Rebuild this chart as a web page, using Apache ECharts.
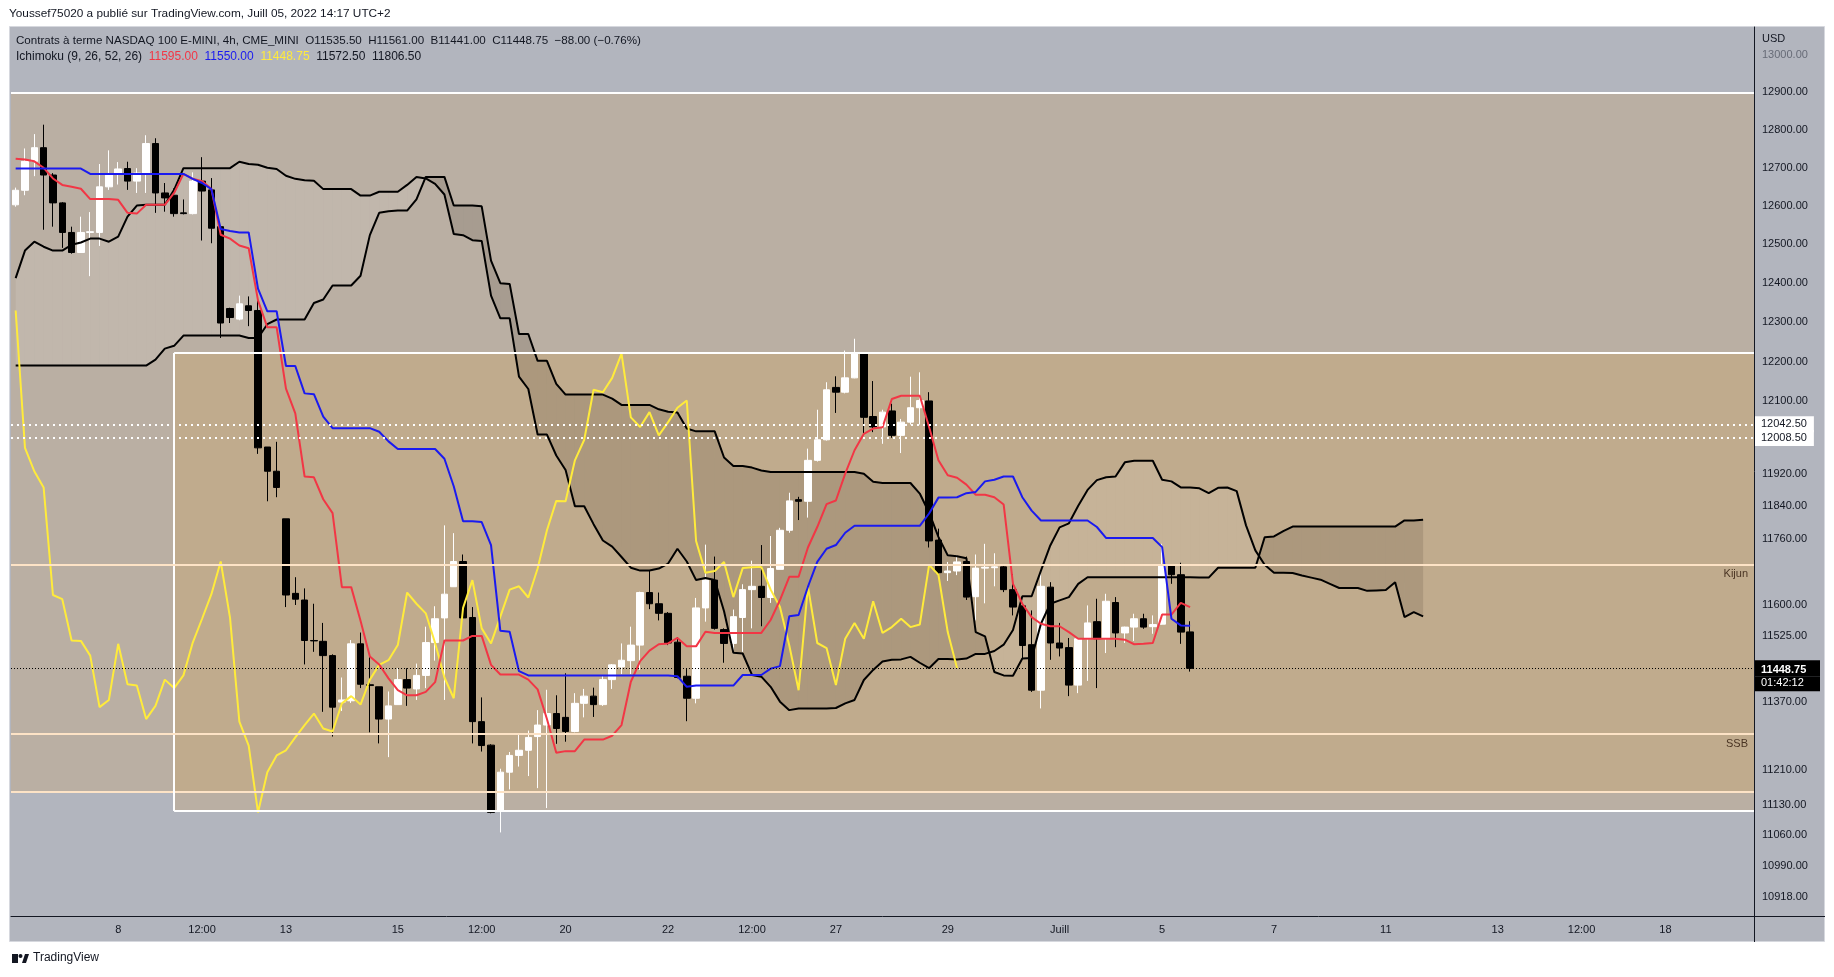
<!DOCTYPE html>
<html>
<head>
<meta charset="utf-8">
<script src="https://cdn.jsdelivr.net/npm/echarts@6/dist/echarts.min.js"></script>
<style>
  html, body { margin: 0; padding: 0; background: #ffffff; }
  #chart { width: 1834px; height: 977px; }
</style>
</head>
<body>
<div id="chart"></div>
<script>
const FONT = '"Liberation Sans", Arial, sans-serif';
const INK = '#131722';

// NQ1! 4h bars, index 0 = Jun 6 04:00 ... index 126 = Jul 5 12:00 (UTC+2)
const opens = [
  12603, 12641, 12717, 12753, 12681, 12608, 12531, 12479, 12531, 12531,
  12650, 12684, 12698, 12665, 12686, 12764, 12634, 12628, 12582, 12580,
  12665, 12642, 12546, 12335, 12308, 12342, 12330, 11986, 11926, 11809,
  11628, 11612, 11515, 11513, 11479, 11369, 11372, 11507, 11410, 11405,
  11329, 11363, 11422, 11400, 11432, 11510, 11569, 11644, 11705, 11570,
  11323, 11268, 11115, 11205, 11244, 11256, 11288, 11315, 11342, 11333,
  11300, 11366, 11383, 11363, 11422, 11452, 11467, 11504, 11630, 11603,
  11580, 11511, 11430, 11378, 11593, 11660, 11541, 11508, 11570, 11637,
  11645, 11618, 11686, 11781, 11856, 11852, 11953, 12004, 12135, 12123,
  12159, 12220, 12062, 12036, 12076, 12015, 12048, 12084, 12101, 11757,
  11678, 11682, 11705, 11620, 11689, 11690, 11692, 11637, 11598, 11505,
  11397, 11643, 11509, 11498, 11409, 11519, 11560, 11519, 11606, 11533,
  11547, 11567, 11548, 11554, 11695, 11673, 11535.5
];
const highs = [
  12648, 12751, 12789, 12814, 12686, 12610, 12546, 12572, 12584, 12710,
  12746, 12715, 12716, 12699, 12786, 12778, 12660, 12646, 12617, 12688,
  12728, 12673, 12548, 12337, 12368, 12366, 12356, 11986, 11999, 11809,
  11667, 11640, 11603, 11557, 11482, 11427, 11516, 11534, 11475, 11405,
  11394, 11449, 11449, 11460, 11548, 11597, 11793, 11774, 11722, 11595,
  11380, 11270, 11213, 11252, 11292, 11302, 11350, 11398, 11385, 11437,
  11390, 11400, 11403, 11432, 11459, 11508, 11548, 11632, 11683, 11630,
  11583, 11523, 11447, 11617, 11746, 11717, 11544, 11589, 11650, 11707,
  11745, 11767, 11787, 11873, 11863, 11982, 12079, 12148, 12163, 12228,
  12258, 12222, 12151, 12079, 12094, 12056, 12162, 12173, 12123, 11785,
  11704, 11720, 11717, 11722, 11748, 11725, 11696, 11674, 11598, 11587,
  11683, 11655, 11557, 11521, 11521, 11599, 11615, 11627, 11619, 11548,
  11579, 11579, 11575, 11748, 11696, 11702, 11561
];
const lows = [
  12598, 12628, 12678, 12538, 12546, 12491, 12476, 12478, 12418, 12496,
  12642, 12656, 12642, 12634, 12634, 12582, 12585, 12572, 12578, 12578,
  12510, 12503, 12260, 12298, 12305, 12290, 11969, 11852, 11862, 11595,
  11600, 11458, 11488, 11346, 11288, 11348, 11367, 11402, 11298, 11272,
  11240, 11363, 11360, 11374, 11402, 11467, 11374, 11644, 11569, 11272,
  11253, 11110, 11066, 11165, 11218, 11196, 11168, 11122, 11271, 11276,
  11298, 11333, 11334, 11360, 11400, 11435, 11435, 11445, 11590, 11563,
  11504, 11425, 11324, 11366, 11560, 11541, 11462, 11484, 11488, 11544,
  11549, 11605, 11686, 11775, 11806, 11812, 11950, 12002, 12071, 12120,
  12158, 12021, 12023, 11994, 12009, 11971, 12042, 12042, 11739, 11664,
  11658, 11672, 11612, 11563, 11604, 11645, 11631, 11575, 11472, 11393,
  11354, 11469, 11477, 11383, 11390, 11419, 11402, 11485, 11499, 11509,
  11514, 11543, 11531, 11553, 11651, 11507, 11441
];
const closes = [
  12641, 12717, 12753, 12681, 12608, 12531, 12479, 12531, 12533, 12650,
  12684, 12697, 12665, 12686, 12764, 12634, 12621, 12580, 12580, 12665,
  12639, 12542, 12298, 12312, 12347, 12330, 11984, 11926, 11886, 11624,
  11614, 11515, 11514, 11479, 11357, 11374, 11507, 11411, 11408, 11329,
  11360, 11422, 11402, 11432, 11510, 11567, 11626, 11705, 11569, 11323,
  11267, 11112, 11205, 11244, 11256, 11286, 11315, 11342, 11307, 11300,
  11366, 11383, 11363, 11422, 11457, 11468, 11504, 11630, 11603, 11580,
  11509, 11427, 11378, 11593, 11660, 11544, 11508, 11572, 11637, 11645,
  11618, 11688, 11781, 11853, 11852, 11953, 12004, 12129, 12123, 12159,
  12220, 12060, 12036, 12073, 12015, 12048, 12084, 12102, 11755, 11678,
  11682, 11704, 11619, 11689, 11691, 11692, 11637, 11595, 11503, 11397,
  11645, 11509, 11497, 11409, 11519, 11557, 11519, 11609, 11533, 11547,
  11567, 11547, 11553, 11697, 11673, 11535, 11448.75
];

// Ichimoku lines
const tenkan = [
  12724, 12722, 12717, 12700, 12672, 12655, 12650, 12645, 12618, 12618,
  12618, 12616, 12582, 12580, 12603, 12603, 12603, 12634, 12684, 12671,
  12665, 12644, 12525, 12515, 12497, 12490, 12356, 12287, 12287, 12132,
  12070, 11913, 11911, 11857, 11823, 11643, 11643, 11562, 11477, 11458,
  11425, 11397, 11385, 11385, 11393, 11416, 11515, 11515, 11515, 11526,
  11526, 11457, 11434, 11434, 11434, 11422, 11399, 11329, 11250, 11254,
  11254, 11281, 11281, 11281, 11290, 11315, 11417, 11466, 11491, 11506,
  11508, 11521, 11501, 11501, 11536, 11533, 11533, 11533, 11533, 11533,
  11533, 11564, 11612, 11668, 11668, 11739, 11789, 11845, 11854, 11920,
  11978, 12019, 12032, 12035, 12106, 12114, 12114, 12114, 12036, 11953,
  11916, 11910, 11893, 11868, 11868, 11862, 11844, 11651, 11603, 11571,
  11555, 11549, 11549, 11535, 11519, 11519, 11519, 11519, 11519, 11517,
  11506, 11507, 11509, 11577, 11577, 11605, 11595
];
const kijun = [
  12698, 12698, 12698, 12698, 12698, 12698, 12698, 12698, 12684, 12684,
  12684, 12684, 12684, 12684, 12684, 12684, 12684, 12684, 12684, 12671,
  12660, 12644, 12540, 12535, 12531, 12531, 12386, 12328, 12328, 12189,
  12189, 12120, 12118, 12062, 12033, 12033, 12033, 12033, 12033, 12024,
  12000, 11981, 11981, 11981, 11981, 11981, 11957, 11889, 11803, 11803,
  11801, 11745, 11538, 11536, 11442, 11432, 11432, 11432, 11432, 11432,
  11432, 11432, 11432, 11432, 11432, 11432, 11432, 11432, 11432, 11432,
  11432, 11430, 11405, 11408, 11408, 11408, 11408, 11408, 11433, 11433,
  11433, 11448, 11454, 11573, 11576, 11644, 11704, 11736, 11745, 11775,
  11792, 11792, 11792, 11792, 11792, 11792, 11792, 11792, 11822, 11861,
  11861, 11862, 11872, 11875, 11901, 11905, 11913, 11913, 11862, 11829,
  11805, 11805, 11805, 11805, 11805, 11805, 11789, 11762, 11762, 11762,
  11762, 11762, 11762, 11740, 11567, 11551, 11550
];
// leading spans, already drawn 25 bars ahead (index 0..151)
const spanA = [
  12413, 12484, 12507, 12494, 12484, 12484, 12499, 12505, 12515, 12515,
  12507, 12520, 12572, 12601, 12603, 12603, 12603, 12642, 12699, 12699,
  12699, 12699, 12699, 12699, 12716, 12710, 12708, 12700, 12697, 12679,
  12671, 12667, 12666, 12644, 12644, 12644, 12644, 12627, 12627, 12637,
  12637, 12637, 12655, 12676, 12672, 12658, 12630, 12527, 12524, 12511,
  12509, 12368, 12310, 12310, 12162, 12131, 12017, 12017, 11965, 11929,
  11840, 11840, 11796, 11756, 11741, 11716, 11690, 11683, 11683, 11688,
  11700, 11736, 11705, 11660, 11665, 11660, 11585, 11486, 11484, 11433,
  11429, 11405, 11370, 11350, 11354, 11354, 11354, 11354, 11355, 11366,
  11374, 11421, 11445, 11465, 11469, 11470, 11476, 11462, 11449, 11471,
  11471, 11470, 11472, 11483, 11483, 11490, 11505, 11540, 11621, 11621,
  11683, 11744, 11788, 11798, 11841, 11880, 11904, 11911, 11913, 11948,
  11952, 11952, 11952, 11905, 11901, 11886, 11886, 11884, 11872, 11885,
  11886, 11877, 11793, 11732, 11697, 11678, 11678, 11677, 11671, 11666,
  11661, 11651, 11641, 11641, 11641, 11634, 11635, 11636, 11655, 11571,
  11583, 11572.5
];
const spanB = [
  12190, 12190, 12190, 12190, 12190, 12190, 12190, 12190, 12190, 12190,
  12190, 12190, 12190, 12190, 12190, 12205, 12233, 12240, 12266, 12266,
  12266, 12266, 12266, 12266, 12266, 12260, 12260, 12295, 12307, 12307,
  12307, 12307, 12349, 12358, 12394, 12394, 12394, 12419, 12524, 12582,
  12586, 12588, 12588, 12617, 12676, 12676, 12676, 12601, 12601, 12601,
  12599, 12458, 12400, 12398, 12270, 12270, 12202, 12202, 12144, 12117,
  12117, 12117, 12117, 12117, 12107, 12091, 12091, 12091, 12091, 12080,
  12074, 12072, 12032, 12025, 12025, 12025, 11960, 11939, 11939, 11935,
  11928, 11924, 11924, 11924, 11924, 11924, 11924, 11924, 11924, 11924,
  11924, 11920, 11900, 11897, 11897, 11897, 11897, 11871, 11824, 11765,
  11720, 11718, 11713, 11535, 11525, 11440, 11432, 11431, 11472, 11473,
  11555, 11603, 11611, 11619, 11651, 11667, 11667, 11667, 11667, 11667,
  11667, 11667, 11667, 11667, 11667, 11667, 11667, 11666, 11666, 11690,
  11690, 11690, 11690, 11690, 11764, 11766, 11779, 11790, 11790, 11790,
  11790, 11790, 11790, 11790, 11790, 11790, 11790, 11790, 11790, 11805,
  11805, 11806.5
];
const CHIKOU_SHIFT = 25;

// drawings on the chart
const zoneOuter = [12900, 11160];
const zoneInner = [12222, 11115];
const zoneInnerStart = 17;
const dottedLevels = [12042.5, 12008.5];
const kijunLevel = 11698;
const ssbLevel = 11294;
const lastPrice = 11448.75;

// axes
const timeTickIdx = [11, 20, 29, 41, 50, 59, 70, 79, 88, 100, 112, 123, 135, 147, 159, 168, 177];
const timeTickText = ['8', '12:00', '13', '15', '12:00', '20', '22', '12:00', '27', '29', 'Juill', '5', '7', '11', '13', '12:00', '18'];
const priceTicks = [13000, 12900, 12800, 12700, 12600, 12500, 12400, 12300, 12200, 12100,
  11920, 11840, 11760, 11600, 11525, 11370, 11210, 11130, 11060, 10990, 10918];

const X_MIN = -0.5, X_MAX = 186.5;
const Y_MIN = 10876, Y_MAX = 13076;

const ZONE_FILL = 'rgba(220, 155, 55, 0.2)';
const CLOUD_UP = 'rgba(255, 255, 255, 0.10)';
const CLOUD_DOWN = 'rgba(40, 30, 20, 0.13)';
const CREAM = '#fde3c6';

const candleData = closes.map((c, i) => [i, opens[i], c, lows[i], highs[i]]);
const cloudData = spanA.slice(0, -1).map((a, i) => [i, a, spanB[i], spanA[i + 1], spanB[i + 1]]);
const asLine = arr => arr.map((v, i) => [i, v]);

function renderCloud(params, api) {
  const i = api.value(0);
  const a0 = api.coord([i, api.value(1)]);
  const b0 = api.coord([i, api.value(2)]);
  const a1 = api.coord([i + 1, api.value(3)]);
  const b1 = api.coord([i + 1, api.value(4)]);
  const d0 = b0[1] - a0[1];
  const d1 = b1[1] - a1[1];
  const fill = d => (d >= 0 ? CLOUD_UP : CLOUD_DOWN);
  if (d0 * d1 >= 0) {
    return {
      type: 'polygon',
      shape: { points: [a0, a1, b1, b0] },
      style: { fill: fill(d0 + d1) }
    };
  }
  const t = d0 / (d0 - d1);
  const x = [a0[0] + t * (a1[0] - a0[0]), a0[1] + t * (a1[1] - a0[1])];
  return {
    type: 'group',
    children: [
      { type: 'polygon', shape: { points: [a0, x, b0] }, style: { fill: fill(d0) } },
      { type: 'polygon', shape: { points: [x, a1, b1] }, style: { fill: fill(d1) } }
    ]
  };
}

const boxLabel = text => ({
  show: true,
  position: 'end',
  distance: 1,
  formatter: text,
  backgroundColor: '#ffffff',
  color: INK,
  fontFamily: FONT,
  fontSize: 11,
  padding: [3, 7, 2, 6]
});
const hidden = { opacity: 0 };
const whiteSolid = { color: '#ffffff', width: 2, type: 'solid' };

const markLines = [
  { yAxis: zoneOuter[0], lineStyle: whiteSolid },
  { yAxis: zoneOuter[1], lineStyle: { color: CREAM, width: 2, type: 'solid' } },
  [{ coord: [zoneInnerStart, zoneInner[0]], lineStyle: whiteSolid }, { coord: [X_MAX, zoneInner[0]] }],
  [{ coord: [zoneInnerStart, zoneInner[1]], lineStyle: whiteSolid }, { coord: [X_MAX, zoneInner[1]] }],
  [{ coord: [zoneInnerStart, zoneInner[0]], lineStyle: whiteSolid }, { coord: [zoneInnerStart, zoneInner[1]] }],
  ...dottedLevels.map(v => ({
    yAxis: v,
    lineStyle: { color: '#ffffff', width: 2, type: [2, 4] },
    label: boxLabel(v.toFixed(2))
  })),
  {
    yAxis: kijunLevel,
    lineStyle: { color: CREAM, width: 2, type: 'solid' },
    label: { show: true, position: 'insideEndBottom', formatter: 'Kijun', color: '#4a3524', fontFamily: FONT, fontSize: 11, distance: [6, 4] }
  },
  { yAxis: kijunLevel, lineStyle: hidden, label: boxLabel(kijunLevel.toFixed(2)) },
  {
    yAxis: ssbLevel,
    lineStyle: { color: CREAM, width: 2, type: 'solid' },
    label: { show: true, position: 'insideEndBottom', formatter: 'SSB', color: '#4a3524', fontFamily: FONT, fontSize: 11, distance: [6, 4] }
  },
  { yAxis: ssbLevel, lineStyle: hidden, label: boxLabel(ssbLevel.toFixed(2)) },
  {
    yAxis: lastPrice,
    lineStyle: { color: '#000000', width: 1, type: [1, 2] },
    label: {
      show: true,
      position: 'end',
      distance: 1,
      formatter: '{s|}\n{p|' + lastPrice.toFixed(2) + '}\n{t|01:42:12}',
      rich: {
        s: { height: 15 },
        p: { backgroundColor: '#000000', color: '#ffffff', fontWeight: 'bold', fontFamily: FONT, fontSize: 11, width: 52, height: 13, padding: [3, 7, 0, 6] },
        t: { backgroundColor: '#000000', color: '#ffffff', fontFamily: FONT, fontSize: 11, width: 52, height: 13, padding: [0, 7, 2, 6] }
      }
    }
  }
];

const lineSeries = (name, data, color, z) => ({
  name,
  type: 'line',
  data,
  symbol: 'none',
  z,
  lineStyle: { color, width: 2 },
  silent: true
});

const chart = echarts.init(document.getElementById('chart'), null, { renderer: 'canvas' });

chart.setOption({
  animation: false,
  backgroundColor: '#ffffff',
  textStyle: { fontFamily: FONT },
  grid: { left: 11, top: 27, width: 1743, height: 889 },
  xAxis: {
    type: 'value',
    min: X_MIN,
    max: X_MAX,
    splitLine: { show: false },
    axisTick: { show: false },
    axisLine: { show: true, onZero: false, lineStyle: { color: INK, width: 1 } },
    axisLabel: {
      customValues: timeTickIdx,
      formatter: v => timeTickText[timeTickIdx.indexOf(v)] || '',
      color: INK,
      fontSize: 11,
      margin: 8
    }
  },
  yAxis: {
    type: 'log',
    logBase: 10,
    min: Y_MIN,
    max: Y_MAX,
    position: 'right',
    splitLine: { show: false },
    axisTick: { show: false },
    axisLine: { show: true, onZero: false, lineStyle: { color: INK, width: 1 } },
    axisLabel: {
      customValues: priceTicks,
      formatter: v => Number(v).toFixed(2),
      color: v => (Math.round(Number(v)) === 13000 ? '#676b77' : INK),
      fontSize: 11,
      margin: 8
    }
  },
  graphic: {
    elements: [
      { type: 'rect', z: -100, silent: true, shape: { x: 9.5, y: 26.5, width: 1815, height: 915 }, style: { fill: '#b2b5be', stroke: '#d6d8de', lineWidth: 1 } },
      { type: 'line', silent: true, shape: { x1: 1754.5, y1: 916, x2: 1754.5, y2: 942 }, style: { stroke: INK, lineWidth: 1 } },
      { type: 'line', silent: true, shape: { x1: 1754, y1: 916.5, x2: 1825, y2: 916.5 }, style: { stroke: INK, lineWidth: 1 } },
      { type: 'text', silent: true, x: 9, y: 8, style: { text: 'Youssef75020 a publié sur TradingView.com, Juill 05, 2022 14:17 UTC+2', fill: INK, font: '11.8px ' + FONT } },
      { type: 'text', silent: true, x: 16, y: 35, style: { text: 'Contrats à terme NASDAQ 100 E-MINI, 4h, CME_MINI  O11535.50  H11561.00  B11441.00  C11448.75  −88.00 (−0.76%)', fill: INK, font: '11.6px ' + FONT } },
      {
        type: 'text', silent: true, x: 16, y: 51,
        style: {
          text: '{k|Ichimoku (9, 26, 52, 26)}  {r|11595.00}  {b|11550.00}  {y|11448.75}  {k|11572.50}  {k|11806.50}',
          font: '12px ' + FONT,
          fill: INK,
          rich: {
            k: { fill: INK, font: '12px ' + FONT },
            r: { fill: '#f23645', font: '12px ' + FONT },
            b: { fill: '#1a1af0', font: '12px ' + FONT },
            y: { fill: '#ffeb3b', font: '12px ' + FONT }
          }
        }
      },
      { type: 'text', silent: true, x: 1762, y: 33, style: { text: 'USD', fill: INK, font: '11px ' + FONT } },
      { type: 'rect', silent: true, shape: { x: 12, y: 954, width: 6, height: 9 }, style: { fill: INK } },
      { type: 'circle', silent: true, shape: { cx: 20.5, cy: 956, r: 2 }, style: { fill: INK } },
      { type: 'polygon', silent: true, shape: { points: [[22, 963], [25, 954], [29, 954], [26, 963]] }, style: { fill: INK } },
      { type: 'text', silent: true, x: 33, y: 952, style: { text: 'TradingView', fill: INK, font: '12px ' + FONT } }
    ]
  },
  series: [
    {
      name: 'kumo',
      type: 'custom',
      data: cloudData,
      renderItem: renderCloud,
      encode: { x: 0, y: [1, 2, 3, 4] },
      z: 1,
      silent: true,
      clip: true
    },
    {
      name: 'NQ1!',
      type: 'candlestick',
      data: candleData,
      barWidth: 7,
      z: 2,
      itemStyle: {
        color: '#ffffff',
        color0: '#000000',
        borderColor: '#ffffff',
        borderColor0: '#000000',
        borderWidth: 1
      },
      markArea: {
        silent: true,
        itemStyle: { color: ZONE_FILL, borderWidth: 0 },
        data: [
          [{ coord: [X_MIN, zoneOuter[0]] }, { coord: [X_MAX, zoneOuter[1]] }],
          [{ coord: [zoneInnerStart, zoneInner[0]] }, { coord: [X_MAX, zoneInner[1]] }]
        ]
      },
      markLine: {
        silent: true,
        symbol: ['none', 'none'],
        precision: 2,
        label: { show: false },
        data: markLines
      }
    },
    lineSeries('Senkou A', asLine(spanA), '#000000', 3),
    lineSeries('Senkou B', asLine(spanB), '#000000', 3),
    lineSeries('Chikou', asLine(closes.slice(CHIKOU_SHIFT)), '#ffeb3b', 3),
    lineSeries('Tenkan', asLine(tenkan), '#f23645', 3),
    lineSeries('Kijun', asLine(kijun), '#1a1af0', 3)
  ]
});
</script>
</body>
</html>
